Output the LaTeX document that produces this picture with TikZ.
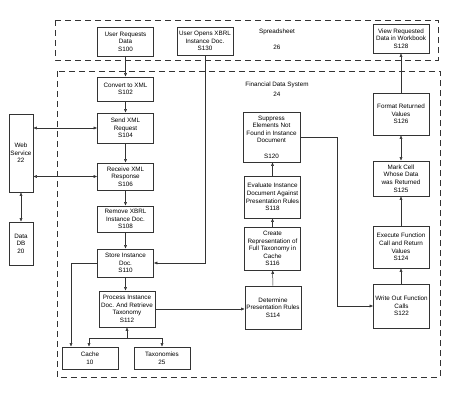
\documentclass[tikz,border=0pt]{standalone}
\usepackage{fontspec}
\setmainfont{Liberation Sans}
\usetikzlibrary{arrows.meta}
\begin{document}
\begin{tikzpicture}[x=1pt,y=-1pt,
  box/.style={draw=black!80,line width=0.6pt,inner sep=0pt,align=center,
    font=\fontsize{6.3}{7.6}\selectfont},
  grp/.style={draw=black!80,line width=0.9pt,dash pattern=on 6pt off 4pt},
  lbl/.style={inner sep=0pt,font=\fontsize{6.3}{7.6}\selectfont},
  con/.style={draw=black!80,line width=0.5pt,-{Latex[length=3.5pt,width=3pt]}},
  dcon/.style={draw=black!80,line width=0.5pt,{Latex[length=3.5pt,width=3pt]}-{Latex[length=3.5pt,width=3pt]}},
  lin/.style={draw=black!80,line width=0.5pt}]
\useasboundingbox (0,0) rectangle (451,400);
% group boxes
\draw[grp] (55,20) rectangle (438,60);
\draw[grp] (57,71) rectangle (440,377);
\node[lbl] (sslbl) at (277,32) {Spreadsheet};
\node[lbl] (ssnum) at (277,47) {26};
\node[lbl] (fdlbl) at (277,85) {Financial Data System};
\node[lbl] (fdnum) at (277,94) {24};
% spreadsheet boxes
\node[box,minimum width=56pt,minimum height=29pt] (s100) at (125.5,41.5) {User Requests\\Data\\S100};
\node[box,minimum width=56pt,minimum height=28pt] (s130) at (205,41) {User Opens XBRL\\Instance Doc.\\S130};
\node[box,minimum width=56pt,minimum height=29pt] (s128) at (401,38.5) {View Requested\\Data in Workbook\\S128};
% left column
\node[box,minimum width=56pt,minimum height=24pt] (s102) at (125.5,89) {Convert to XML\\S102};
\node[box,minimum width=56pt,minimum height=30pt] (s104) at (125.5,128) {Send XML\\Request\\S104};
\node[box,minimum width=56pt,minimum height=27pt] (s106) at (125.5,176.5) {Receive XML\\Response\\S106};
\node[box,minimum width=56pt,minimum height=26pt] (s108) at (125.5,219) {Remove XBRL\\Instance Doc.\\S108};
\node[box,minimum width=56pt,minimum height=28pt] (s110) at (125.5,263) {Store Instance\\Doc.\\S110};
\node[box,minimum width=56pt,minimum height=36pt] (s112) at (127,309) {Process Instance\\Doc. And Retrieve\\Taxonomy\\S112};
\node[box,minimum width=56pt,minimum height=22pt] (cache) at (90,358) {Cache\\10};
\node[box,minimum width=56pt,minimum height=22pt] (tax) at (162,358) {Taxonomies\\25};
\node[box,minimum width=24pt,minimum height=78pt] (ws) at (21,153) {Web\\Service\\22};
\node[box,minimum width=24pt,minimum height=43pt] (db) at (21,243.5) {Data\\DB\\20};
% middle column
\node[box,minimum width=57pt,minimum height=50pt] (s120) at (271.5,137) {Suppress\\Elements Not\\Found in Instance\\Document\\[7.6pt]S120};
\node[box,minimum width=56pt,minimum height=42pt] (s118) at (272.5,197) {Evaluate Instance\\Document Against\\Presentation Rules\\S118};
\node[box,minimum width=56pt,minimum height=43pt] (s116) at (272.5,248.5) {Create\\Representation of\\Full Taxonomy in\\Cache\\S116};
\node[box,minimum width=56pt,minimum height=43pt] (s114) at (273,307.5) {Determine\\Presentation Rules\\S114};
% right column
\node[box,minimum width=56pt,minimum height=42pt] (s126) at (401,114) {Format Returned\\Values\\S126};
\node[box,minimum width=56pt,minimum height=35pt] (s125) at (401,178.5) {Mark Cell\\Whose Data\\was Returned\\S125};
\node[box,minimum width=56pt,minimum height=42pt] (s124) at (401,247) {Execute Function\\Call and Return\\Values\\S124};
\node[box,minimum width=56pt,minimum height=44pt] (s122) at (401.5,306) {Write Out Function\\Calls\\S122};
% coordinates
\coordinate (c1) at (71,358);
\coordinate (j) at (127,338);
\coordinate (k) at (337,306);
% connectors
\draw[con] (s100) -- (s102);
\draw[con] (s102) -- (s104);
\draw[con] (s104) -- (s106);
\draw[con] (s106) -- (s108);
\draw[con] (s108) -- (s110);
\draw[con] (s110.south) -- (s110.south |- s112.north);
\draw[dcon] (s104.west -| ws.east) -- (s104.west);
\draw[dcon] (s106.west -| ws.east) -- (s106.west);
\draw[dcon] (ws) -- (db);
\draw[con] (s130.south) |- (s110.east);
\draw[con] (s110.west) -| (c1 |- cache.north);
\draw[con] (j) -- (s112.south);
\draw[dcon] (cache.north -| 89,0) -- (j -| 89,0) -- (j -| tax.north) -- (tax.north);
\draw[con] (s112.east) -- (s112.east -| s114.west);
\draw[con] (s114) -- (s116);
\draw[con] (s116) -- (s118);
\draw[con] (s118.north) -- (s118.north |- s120.south);
\draw[con] (s120.east) -| (k) -- (k -| s122.west);
\draw[con] (s122.north -| s124.south) -- (s124.south);
\draw[con] (s124) -- (s125);
\draw[dcon] (s125) -- (s126);
\draw[con] (s126) -- (s128);
\end{tikzpicture}
\end{document}
